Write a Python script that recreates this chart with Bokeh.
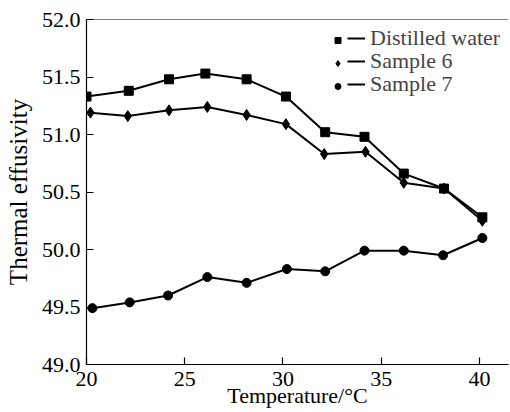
from bokeh.plotting import figure
from bokeh.models import Legend, LegendItem, Span, FixedTicker, NumeralTickFormatter, Range1d
from bokeh.embed import file_html
from bokeh.resources import INLINE

# ---- data ----
water_t = [20.0, 22.15, 24.2, 26.05, 28.15, 30.15, 32.15, 34.15, 36.15, 38.2, 40.15]
water = [51.33, 51.38, 51.48, 51.53, 51.48, 51.33, 51.02, 50.98, 50.66, 50.53, 50.28]

sample6_t = [20.2, 22.1, 24.2, 26.15, 28.15, 30.15, 32.1, 34.2, 36.15, 38.2, 40.15]
sample6 = [51.19, 51.16, 51.21, 51.24, 51.17, 51.09, 50.83, 50.85, 50.58, 50.53, 50.25]

sample7_t = [20.3, 22.2, 24.15, 26.15, 28.15, 30.2, 32.15, 34.15, 36.15, 38.15, 40.15]
sample7 = [49.49, 49.54, 49.60, 49.76, 49.71, 49.83, 49.81, 49.99, 49.99, 49.95, 50.10]

series_labels = ["Distilled water", "Sample 6", "Sample 7"]
x_ticks = [20, 25, 30, 35, 40]
y_ticks = [49.0, 49.5, 50.0, 50.5, 51.0, 51.5, 52.0]
x_label = "Temperature/\u00b0C"
y_label = "Thermal effusivity"

FONT = "Liberation Serif"
FS = "22px"

p = figure(width=510, height=412, output_backend="svg", toolbar_location=None,
           x_range=Range1d(20, 41.48), y_range=Range1d(49, 52),
           min_border_left=86, min_border_top=19, min_border_right=2, min_border_bottom=48)
p.outline_line_color = None
p.xgrid.visible = False
p.ygrid.visible = False
p.background_fill_color = "white"
p.border_fill_color = "white"

for ax in (p.xaxis[0], p.yaxis[0]):
    ax.axis_line_color = "black"
    ax.axis_line_width = 1.2
    ax.major_tick_line_color = "black"
    ax.major_tick_line_width = 1.2
    ax.major_tick_in = 7
    ax.major_tick_out = 0
    ax.minor_tick_line_color = None
    ax.major_label_text_font = FONT
    ax.major_label_text_font_size = FS
    ax.major_label_text_color = "black"
    ax.axis_label_text_font = FONT
    ax.axis_label_text_font_size = FS
    ax.axis_label_text_font_style = "normal"
    ax.axis_label_text_color = "black"

p.xaxis.ticker = FixedTicker(ticks=x_ticks)
p.yaxis.ticker = FixedTicker(ticks=y_ticks)
p.yaxis.formatter = NumeralTickFormatter(format="0.0")
p.xaxis.axis_label = x_label
p.yaxis.axis_label = y_label
p.yaxis.axis_label_text_font_size = "25px"
p.xaxis.major_label_standoff = 7
p.xaxis.axis_label_standoff = -6
p.yaxis.major_label_standoff = 6
p.yaxis.axis_label_standoff = 7

p.add_layout(Span(location=52, dimension="width", line_color="black", line_width=1.2))

lw = p.line(water_t, water, line_color="black", line_width=2)
sw = p.scatter(water_t, water, marker="square", size=9, color="black")
l6 = p.line(sample6_t, sample6, line_color="black", line_width=2)
s6 = p.scatter(sample6_t, sample6, marker="diamond", size=11, color="black")
l7 = p.line(sample7_t, sample7, line_color="black", line_width=2)
s7 = p.scatter(sample7_t, sample7, marker="circle", size=9, color="black")

common = dict(padding=0, spacing=0, margin=0, border_line_color=None,
              background_fill_alpha=0, label_text_font=FONT, label_text_font_size=FS,
              glyph_height=22, label_height=22)

# one marker legend + one line/label legend per row, rows 23 px apart
row_offsets = [313, 290, 267]
for label, mark, line, vy in zip(series_labels, (sw, s6, s7), (lw, l6, l7), row_offsets):
    p.add_layout(Legend(items=[LegendItem(label=" ", renderers=[mark])],
                        location=(244, vy), glyph_width=15, label_width=0, label_standoff=0, **common))
    p.add_layout(Legend(items=[LegendItem(label=label, renderers=[line])],
                        location=(261, vy), glyph_width=18, label_standoff=5, **common))

open("out.html", "w").write(file_html(p, INLINE))
